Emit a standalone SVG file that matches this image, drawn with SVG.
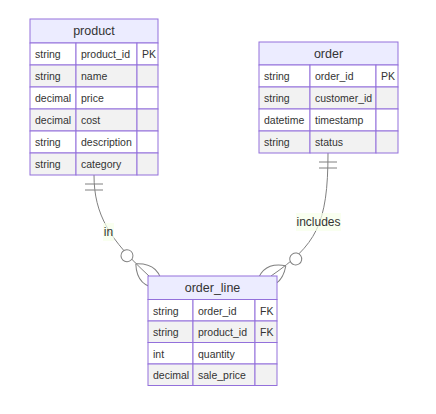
<svg xmlns="http://www.w3.org/2000/svg" width="436" height="414" viewBox="0 0 436 414">
<style>
  .box{stroke:#9370DB;stroke-width:1}
  .hdr{fill:#ECECFF}
  .odd{fill:#ffffff}
  .even{fill:#f2f2f2}
  .ht{font-family:"Liberation Sans",Arial,sans-serif;font-size:12.5px;fill:#333;text-anchor:middle;dominant-baseline:central}
  .at{font-family:"Liberation Sans",Arial,sans-serif;font-size:10.5px;fill:#333;dominant-baseline:central}
  .rel{fill:none;stroke:#808080;stroke-width:1}
  .lblbg{fill:#f6ffea;fill-opacity:0.7}
  .lbl{font-family:"Liberation Sans",Arial,sans-serif;font-size:12px;fill:#333;text-anchor:middle;dominant-baseline:central}
</style>
<defs>
  <marker id="onlyOneStart" refX="0" refY="9" markerWidth="18" markerHeight="18" orient="auto" markerUnits="userSpaceOnUse">
    <path d="M9,0 L9,18 M15,0 L15,18" stroke="#808080" fill="none"/>
  </marker>
  <marker id="zeroOrMoreEnd" refX="39" refY="18" markerWidth="57" markerHeight="36" orient="auto" markerUnits="userSpaceOnUse">
    <circle cx="9" cy="18" r="6" fill="#fff" stroke="#808080"/>
    <path d="M21,18 Q39,0 57,18 Q39,36 21,18" fill="none" stroke="#808080"/>
  </marker>
</defs>
<g id="edges">
  <path class="rel" d="M94,175 C94,215 110,240 149,276" marker-start="url(#onlyOneStart)" marker-end="url(#zeroOrMoreEnd)"/>
  <path class="rel" d="M328,153 C328,225 316,245 271,276" marker-start="url(#onlyOneStart)" marker-end="url(#zeroOrMoreEnd)"/>
  <rect class="lblbg" x="103" y="223" width="11" height="18"/>
  <text class="lbl" x="108.5" y="232">in</text>
  <rect class="lblbg" x="296" y="213" width="45" height="18"/>
  <text class="lbl" x="318.5" y="222">includes</text>
</g>
<g id="product">
  <rect class="box hdr" x="30" y="19" width="128" height="24"/>
  <text class="ht" x="94" y="31">product</text>
  <rect class="box odd" x="30" y="43" width="46" height="22"/><rect class="box odd" x="76" y="43" width="61" height="22"/><rect class="box odd" x="137" y="43" width="21" height="22"/>
  <rect class="box even" x="30" y="65" width="46" height="22"/><rect class="box even" x="76" y="65" width="61" height="22"/><rect class="box even" x="137" y="65" width="21" height="22"/>
  <rect class="box odd" x="30" y="87" width="46" height="22"/><rect class="box odd" x="76" y="87" width="61" height="22"/><rect class="box odd" x="137" y="87" width="21" height="22"/>
  <rect class="box even" x="30" y="109" width="46" height="22"/><rect class="box even" x="76" y="109" width="61" height="22"/><rect class="box even" x="137" y="109" width="21" height="22"/>
  <rect class="box odd" x="30" y="131" width="46" height="22"/><rect class="box odd" x="76" y="131" width="61" height="22"/><rect class="box odd" x="137" y="131" width="21" height="22"/>
  <rect class="box even" x="30" y="153" width="46" height="22"/><rect class="box even" x="76" y="153" width="61" height="22"/><rect class="box even" x="137" y="153" width="21" height="22"/>
  <text class="at" x="35" y="54">string</text><text class="at" x="81" y="54">product_id</text><text class="at" x="142" y="54">PK</text>
  <text class="at" x="35" y="76">string</text><text class="at" x="81" y="76">name</text>
  <text class="at" x="35" y="98">decimal</text><text class="at" x="81" y="98">price</text>
  <text class="at" x="35" y="120">decimal</text><text class="at" x="81" y="120">cost</text>
  <text class="at" x="35" y="142">string</text><text class="at" x="81" y="142">description</text>
  <text class="at" x="35" y="164">string</text><text class="at" x="81" y="164">category</text>
</g>
<g id="order">
  <rect class="box hdr" x="259" y="42" width="139" height="23"/>
  <text class="ht" x="328.5" y="53.5">order</text>
  <rect class="box odd" x="259" y="65" width="51" height="22"/><rect class="box odd" x="310" y="65" width="66" height="22"/><rect class="box odd" x="376" y="65" width="22" height="22"/>
  <rect class="box even" x="259" y="87" width="51" height="22"/><rect class="box even" x="310" y="87" width="66" height="22"/><rect class="box even" x="376" y="87" width="22" height="22"/>
  <rect class="box odd" x="259" y="109" width="51" height="22"/><rect class="box odd" x="310" y="109" width="66" height="22"/><rect class="box odd" x="376" y="109" width="22" height="22"/>
  <rect class="box even" x="259" y="131" width="51" height="22"/><rect class="box even" x="310" y="131" width="66" height="22"/><rect class="box even" x="376" y="131" width="22" height="22"/>
  <text class="at" x="264" y="76">string</text><text class="at" x="315" y="76">order_id</text><text class="at" x="381" y="76">PK</text>
  <text class="at" x="264" y="98">string</text><text class="at" x="315" y="98">customer_id</text>
  <text class="at" x="264" y="120">datetime</text><text class="at" x="315" y="120">timestamp</text>
  <text class="at" x="264" y="142">string</text><text class="at" x="315" y="142">status</text>
</g>
<g id="order_line">
  <rect class="box hdr" x="148" y="276" width="129" height="23.5"/>
  <text class="ht" x="212.5" y="288">order_line</text>
  <rect class="box odd" x="148" y="299.5" width="45" height="21.5"/><rect class="box odd" x="193" y="299.5" width="62" height="21.5"/><rect class="box odd" x="255" y="299.5" width="22" height="21.5"/>
  <rect class="box even" x="148" y="321" width="45" height="21.5"/><rect class="box even" x="193" y="321" width="62" height="21.5"/><rect class="box even" x="255" y="321" width="22" height="21.5"/>
  <rect class="box odd" x="148" y="342.5" width="45" height="21.5"/><rect class="box odd" x="193" y="342.5" width="62" height="21.5"/><rect class="box odd" x="255" y="342.5" width="22" height="21.5"/>
  <rect class="box even" x="148" y="364" width="45" height="21.5"/><rect class="box even" x="193" y="364" width="62" height="21.5"/><rect class="box even" x="255" y="364" width="22" height="21.5"/>
  <text class="at" x="153" y="310.5">string</text><text class="at" x="198" y="310.5">order_id</text><text class="at" x="260" y="310.5">FK</text>
  <text class="at" x="153" y="332">string</text><text class="at" x="198" y="332">product_id</text><text class="at" x="260" y="332">FK</text>
  <text class="at" x="153" y="353.5">int</text><text class="at" x="198" y="353.5">quantity</text>
  <text class="at" x="153" y="375">decimal</text><text class="at" x="198" y="375">sale_price</text>
</g>
</svg>
